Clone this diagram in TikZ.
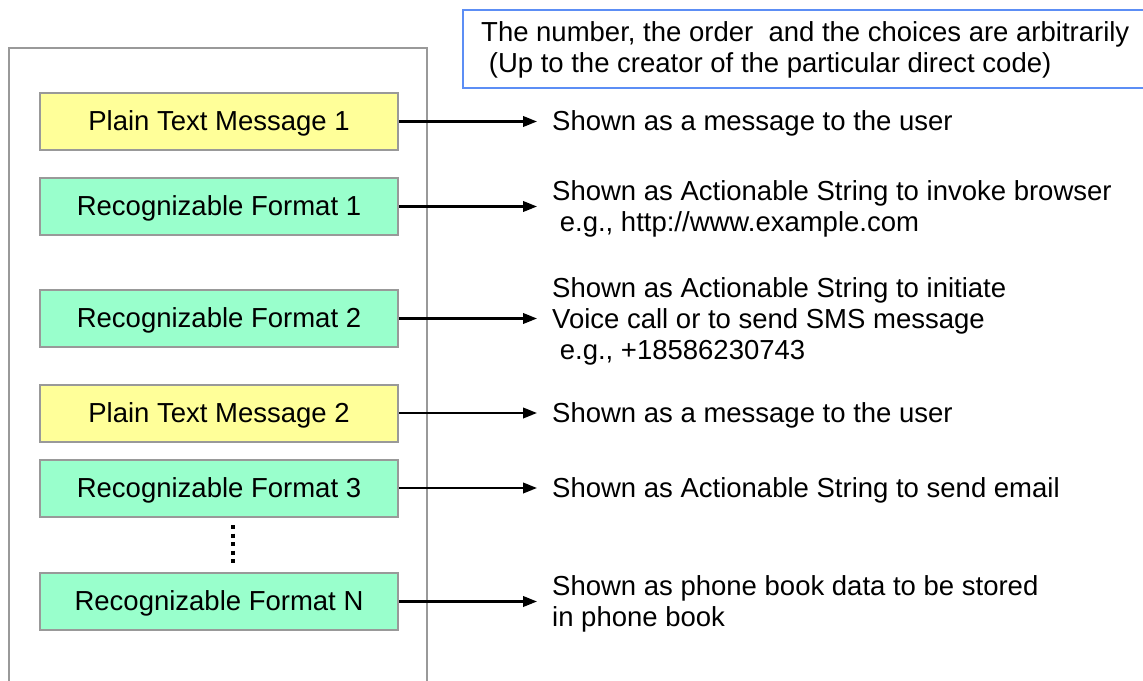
\documentclass[tikz,border=0pt]{standalone}
\usepackage{fontspec}
\setmainfont{Liberation Sans}
\usetikzlibrary{arrows.meta}
\definecolor{boxgray}{HTML}{999999}
\definecolor{plainyellow}{HTML}{FFFF99}
\definecolor{formgreen}{HTML}{99FFCC}
\definecolor{noteblue}{HTML}{5C8EF5}
\tikzset{
  txt/.style={font=\fontsize{27.5}{31}\selectfont},
  msgbox/.style={txt, draw=boxgray, line width=2pt, minimum width=358pt, minimum height=57pt, inner sep=0pt, text height=19pt, text depth=1pt},
  plainbox/.style={msgbox, fill=plainyellow},
  formbox/.style={msgbox, fill=formgreen},
  outtext/.style={txt, anchor=west, align=left, inner xsep=15pt, inner ysep=0pt, yshift=-2pt},
  arr/.style={line width=2.3pt, -{Triangle[length=14pt,width=10.5pt]}},
}
\begin{document}
\begin{tikzpicture}[x=1pt,y=-1pt]
\useasboundingbox (0,0) rectangle (1143,680);
\clip (0,0) rectangle (1143,680);
\fill[white] (0,0) rectangle (1143,680);
% outer frame
\draw[boxgray, line width=2pt] (9,690) -- (9,48) -- (427,48) -- (427,690);
% note box
\draw[noteblue, line width=2.2pt] (463,10) rectangle (1160,88);
\node[txt, anchor=west, align=left, inner sep=0pt] (note) at (481,50) {The number, the order\ \ and the choices are arbitrarily\\\ (Up to the creator of the particular direct code)};
% boxes
\node[plainbox] (p1) at (219,121.5) {Plain Text Message 1};
\node[formbox] (f1) at (219,206.5) {Recognizable Format 1};
\node[formbox] (f2) at (219,318.5) {Recognizable Format 2};
\node[plainbox] (p2) at (219,413) {Plain Text Message 2};
\node[formbox] (f3) at (219,488) {Recognizable Format 3};
\node[formbox] (fn) at (219,601.5) {Recognizable Format N};
% dots
\coordinate (d1) at (233,525);
\coordinate (d2) at (233,565);
\draw[line width=4pt, dash pattern=on 4pt off 4.5pt] (d1) -- (d2);
% output texts
\node[outtext] (t1) at (537,121.5) {Shown as a message to the user};
\node[outtext] (t2) at (537,206.5) {Shown as Actionable String to invoke browser\\\ e.g., http://www.example.com};
\node[outtext] (t3) at (537,319.5) {Shown as Actionable String to initiate\\Voice call or to send SMS message\\\ e.g., +18586230743};
\node[outtext] (t4) at (537,413) {Shown as a message to the user};
\node[outtext] (t5) at (537,488) {Shown as Actionable String to send email};
\node[outtext] (t6) at (537,601.5) {Shown as phone book data to be stored\\in phone book};
% arrows
\draw[arr] (p1.east) -- (p1.east -| t1.west);
\draw[arr] (f1.east) -- (f1.east -| t2.west);
\draw[arr] (f2.east) -- (f2.east -| t3.west);
\draw[arr] (p2.east) -- (p2.east -| t4.west);
\draw[arr] (f3.east) -- (f3.east -| t5.west);
\draw[arr] (fn.east) -- (fn.east -| t6.west);
\end{tikzpicture}
\end{document}
